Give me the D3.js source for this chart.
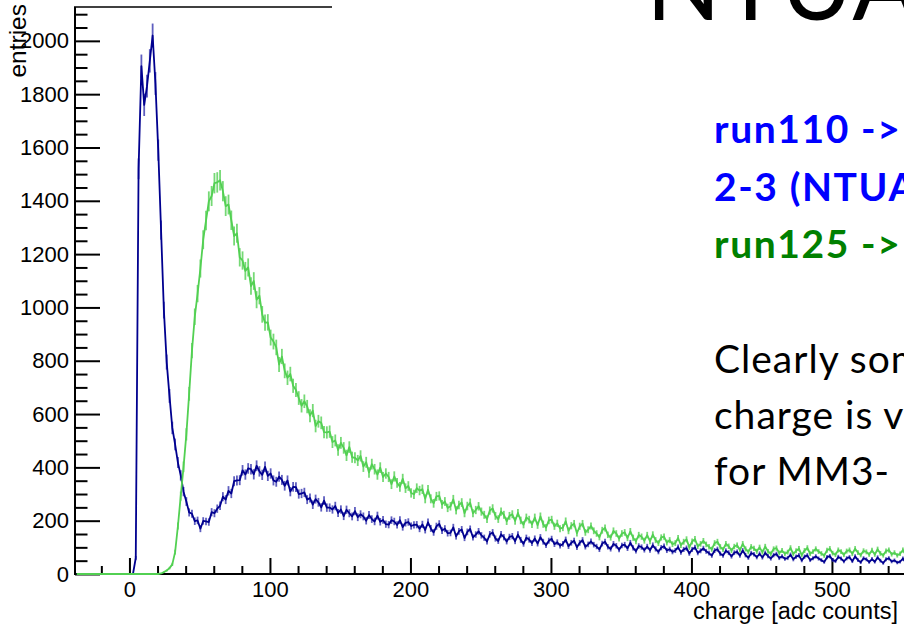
<!DOCTYPE html>
<html>
<head>
<meta charset="utf-8">
<script src="https://cdn.jsdelivr.net/npm/d3@7"></script>
<style>
  html, body { margin: 0; padding: 0; background: #fff; overflow: hidden; }
  svg { display: block; }
</style>
</head>
<body>
<svg id="chart" width="904" height="627"></svg>
<script>
// Histogram binning: 2 adc counts per bin, first bin starts at -38.5
const binLow = -38.5;
const binWidth = 2;

// run110 charge spectrum (entries per bin)
const run110 = [
  0,0,0,0,0,0,0,0,0,0, 0,0,0,0,0,0,0,0,0,0, 0,
  60,1520,1905,1760,1830,1925,2020,1840,1590,1290,
  990,795,668,548,486,418,370,309,272,231,
  226,198,201,170,199,197,195,232,228,245,
  256,290,279,312,302,348,351,352,389,373,
  396,393,374,406,385,372,402,368,377,351,
  346,365,353,331,351,309,327,326,300,302,
  306,279,285,260,281,269,250,275,249,249,
  242,255,229,242,217,241,228,216,236,213,
  224,216,200,221,206,197,219,196,203,187,
  185,202,197,184,202,176,192,195,180,184,
  185,170,
  186,165,194,171,156,179,188,163,170,153,
  154,175,141,160,167,135,158,169,137,148,
  160,145,136,122,149,156,133,124,149,138,
  122,139,142,123,148,128,113,136,129,116,
  133,114,138,121,108,125,132,112,119,106,
  113,129,104,117,125,100,117,127,102,111,
  122,110,103,92,114,121,102,94,113,106,
  91,107,110,96,117,98,86,105,101,90,
  103,89,108,94,83,99,104,88,93,83,
  88,101,81,92,97,77,92,100,79,87,
  96,85,78,69,88,93,76,69,87,80,
  66,80,83,69,88,71,61,78,74,63,
  76,62,79,67,58,71,75,60,66,57,
  60,72,55,65,70,51,65,70,52,59,
  66,58,52,45,63,67,52,48,64,58,
  47,59,63,48,66,52,44,59,55,45,
  56,46,62,50,41,55,59,47,51,43,
  46,58,42,52,56,40,54
];

// run125 charge spectrum (entries per bin)
const run125 = [
  0,0,0,0,0,0,0,0,0,0, 0,0,0,0,0,0,0,0,0,0, 0,0,0,0,0,0,0,0,0,0,
  2,7,13,22,36,82,180,292,402,524,
  676,838,965,1052,1146,1254,1326,1398,1418,1466,
  1469,1477,1436,1380,1386,1327,1268,1278,1188,1176,
  1137,1150,1080,1099,1029,1044,974,943,944,887,
  872,850,786,816,762,736,750,706,690,660,
  631,648,628,594,613,555,573,567,532,531,
  534,495,501,465,492,473,445,476,438,436,
  426,443,403,419,381,412,393,373,399,364,
  377,364,337,366,342,327,357,322,330,304,
  299,322,313,
  318,282,316,282,265,291,293,261,272,248,
  254,280,239,259,268,228,255,267,228,240,
  254,234,222,206,238,246,218,206,234,222,
  198,218,224,199,229,201,185,212,204,186,
  212,183,216,187,174,201,204,179,190,170,
  174,198,162,181,189,153,179,189,156,166,
  180,162,152,138,164,173,147,137,162,152,
  133,152,156,135,160,136,123,146,140,125,
  146,123,148,127,116,137,140,118,127,112,
  116,135,108,121,130,101,122,131,104,113,
  124,111,102,93,116,121,102,92,113,104,
  88,103,108,90,113,94,83,102,96,85,
  100,82,103,85,76,94,97,79,88,76,
  82,98,75,87,95,71,88,98,76,84,
  94,84,77,69,89,95,78,72,90,84,
  72,86,90,76,95,80,71,87,83,73,
  89,73,93,77,70,86,90,74,80,70,
  76,90,72,82,88,68,84
];

// Axis ticks
const xMajorTicks = [0, 100, 200, 300, 400, 500];
const xMinorTicks = [-20, 20, 40, 60, 80, 120, 140, 160, 180, 220, 240, 260, 280,
                     320, 340, 360, 380, 420, 440, 460, 480, 520, 540, 560];
const yMajorTicks = [0, 200, 400, 600, 800, 1000, 1200, 1400, 1600, 1800, 2000];
const yMinorTicks = [50, 100, 150, 250, 300, 350, 450, 500, 550, 650, 700, 750,
                     850, 900, 950, 1050, 1100, 1150, 1250, 1300, 1350, 1450, 1500, 1550,
                     1650, 1700, 1750, 1850, 1900, 1950, 2050, 2100];

// Text beside the plot
const titleText = "NTUA";
const blueLines = ["run110 ->", "2-3 (NTUA"];
const greenLines = ["run125 ->"];
const noteLines = ["Clearly som", "charge is v", "for MM3-"];

const svg = d3.select("#chart");
const W = 904, H = 627;
const plotLeft = 75, plotBottom = 574, plotTop = 7;

const x = d3.scaleLinear().domain([-38.75, 561.25]).range([plotLeft, plotLeft + 600 * 1.405]);
const y = d3.scaleLinear().domain([0, 2127]).range([plotBottom, plotTop]);

svg.append("defs").append("clipPath").attr("id", "plotclip")
  .append("rect").attr("x", plotLeft).attr("y", plotTop - 2)
  .attr("width", W - plotLeft).attr("height", plotBottom - plotTop + 3);

const font = "'Liberation Sans', Arial, Helvetica, sans-serif";

// Y axis (ticks point into the plot)
const yMajor = svg.append("g").attr("transform", `translate(${plotLeft},0)`)
  .call(d3.axisLeft(y).tickValues(yMajorTicks).tickSize(-25).tickPadding(6).tickFormat(d3.format("d")));
const yMinor = svg.append("g").attr("transform", `translate(${plotLeft},0)`)
  .call(d3.axisLeft(y).tickValues(yMinorTicks).tickSize(-12.5).tickFormat(""));

// X axis
const xMajor = svg.append("g").attr("transform", `translate(0,${plotBottom})`)
  .call(d3.axisBottom(x).tickValues(xMajorTicks).tickSize(-16).tickPadding(7).tickFormat(d3.format("d")));
const xMinor = svg.append("g").attr("transform", `translate(0,${plotBottom})`)
  .call(d3.axisBottom(x).tickValues(xMinorTicks).tickSize(-8).tickFormat(""));

[yMajor, yMinor, xMajor, xMinor].forEach(g => {
  g.select(".domain").remove();
  g.selectAll(".tick line").attr("stroke", "#000").attr("stroke-width", 2);
  g.selectAll(".tick text").attr("fill", "#000").style("font-family", font).style("font-size", "22px");
});
xMajor.selectAll(".tick text").attr("dy", "0.71em");

// Frame
svg.append("line").attr("x1", plotLeft).attr("x2", plotLeft).attr("y1", plotTop).attr("y2", plotBottom + 1)
  .attr("stroke", "#000").attr("stroke-width", 2);
svg.append("line").attr("x1", plotLeft - 1).attr("x2", W).attr("y1", plotBottom).attr("y2", plotBottom)
  .attr("stroke", "#000").attr("stroke-width", 2);
svg.append("line").attr("x1", plotLeft - 1).attr("x2", 332).attr("y1", plotTop).attr("y2", plotTop)
  .attr("stroke", "#000").attr("stroke-width", 1.5);

// Histograms with statistical error bars
function drawHist(values, color, barColor) {
  const pts = values.map((v, i) => ({ c: binLow + binWidth * (i + 0.5), v }));
  const g = svg.append("g").attr("clip-path", "url(#plotclip)");
  g.selectAll("line.err").data(pts.filter(d => d.v > 0)).join("line")
    .attr("class", "err")
    .attr("x1", d => x(d.c)).attr("x2", d => x(d.c))
    .attr("y1", d => y(d.v + Math.sqrt(d.v))).attr("y2", d => y(Math.max(0, d.v - Math.sqrt(d.v))))
    .attr("stroke", barColor).attr("stroke-width", 1.8);
  const line = d3.line().x(d => x(d.c)).y(d => y(d.v));
  g.append("path").datum(pts).attr("d", line)
    .attr("fill", "none").attr("stroke", color).attr("stroke-width", 1.8)
    .attr("stroke-linejoin", "round");
}
drawHist(run110, "#00008f", "rgba(40,40,170,0.75)");
drawHist(run125, "#52d052", "rgba(82,208,82,0.8)");

// Axis titles
svg.append("text").attr("transform", "translate(26,4) rotate(-90)")
  .attr("text-anchor", "end").style("font-family", font).style("font-size", "24.5px")
  .text("entries");
svg.append("text").attr("x", 898).attr("y", 619).attr("text-anchor", "end")
  .style("font-family", font).style("font-size", "23.5px")
  .text("charge [adc counts]");

// Slide text to the right of the histogram
const slideFont = "Lato, 'Open Sans', 'Noto Sans', sans-serif";
svg.append("text").attr("x", 646).attr("y", 20)
  .style("font-family", slideFont).style("font-weight", 400).style("font-size", "98px")
  .style("letter-spacing", "1px").attr("fill", "#000").text(titleText);

const blueY = [143, 200.5];
blueLines.forEach((t, i) => {
  svg.append("text").attr("x", 714).attr("y", blueY[i])
    .style("font-family", slideFont).style("font-weight", 700).style("font-size", "39px")
    .style("letter-spacing", "1.6px").attr("fill", "#0000ff").text(t);
});
greenLines.forEach((t) => {
  svg.append("text").attr("x", 714).attr("y", 258)
    .style("font-family", slideFont).style("font-weight", 700).style("font-size", "39px")
    .style("letter-spacing", "1.6px").attr("fill", "#008000").text(t);
});
const noteY = [373, 428.5, 485];
noteLines.forEach((t, i) => {
  svg.append("text").attr("x", 714).attr("y", noteY[i])
    .style("font-family", slideFont).style("font-weight", 400).style("font-size", "39px")
    .style("letter-spacing", "1px").attr("fill", "#000").text(t);
});
</script>
</body>
</html>
